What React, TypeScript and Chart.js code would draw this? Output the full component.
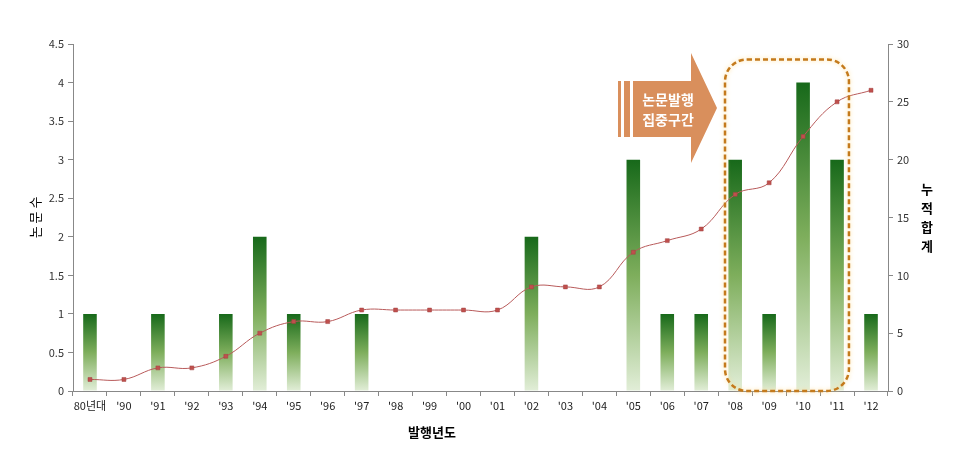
import React, { useEffect, useRef } from "react";
import { Chart, registerables } from "chart.js";

Chart.register(...registerables);

const categories = ["80년대", "'90", "'91", "'92", "'93", "'94", "'95", "'96", "'97", "'98", "'99", "'00", "'01", "'02", "'03", "'04", "'05", "'06", "'07", "'08", "'09", "'10", "'11", "'12"];
const papers = [1, 0, 1, 0, 1, 2, 1, 0, 1, 0, 0, 0, 0, 2, 0, 0, 3, 1, 1, 3, 1, 4, 3, 1];
const cumulative = [1, 1, 2, 2, 3, 5, 6, 6, 7, 7, 7, 7, 7, 9, 9, 9, 12, 13, 14, 17, 18, 22, 25, 26];
const leftTitle = "논 문 수";
const rightTitle = ["누", "적", "합", "계"];
const xTitle = "발행년도";
const arrowText = ["논문발행", "집중구간"];
const focusStart = 19; // '08
const focusEnd = 22; // '11

const FONT = "'Noto Sans CJK KR', 'Noto Sans', sans-serif";

const overlay = {
  id: "overlay",
  afterDraw(chart: any) {
    const ctx = chart.ctx;
    const { left, right, top, bottom } = chart.chartArea;
    const xs = chart.scales.x;
    const ys = chart.scales.y;
    const cw = (right - left) / categories.length;

    ctx.save();
    ctx.fillStyle = "#000";
    ctx.textAlign = "center";
    ctx.textBaseline = "middle";
    ctx.font = `bold 13px ${FONT}`;
    ctx.fillText(xTitle, 432, 432);

    ctx.save();
    ctx.font = `13px ${FONT}`;
    ctx.translate(35, (top + bottom) / 2);
    ctx.rotate(-Math.PI / 2);
    ctx.fillText(leftTitle, 0, 0);
    ctx.restore();

    const midY = (top + bottom) / 2;
    ctx.font = `bold 13px ${FONT}`;
    rightTitle.forEach((ch, i) => {
      ctx.fillText(ch, 927, midY - 28 + i * 19);
    });

    // Dashed focus box
    const bx0 = xs.getPixelForValue(focusStart) - cw * 0.3;
    const bx1 = xs.getPixelForValue(focusEnd) + cw * 0.35;
    const by0 = ys.getPixelForValue(4.3);
    const by1 = bottom;
    const r = 22;
    ctx.beginPath();
    ctx.moveTo(bx0 + r, by0);
    ctx.lineTo(bx1 - r, by0);
    ctx.arcTo(bx1, by0, bx1, by0 + r, r);
    ctx.lineTo(bx1, by1 - r);
    ctx.arcTo(bx1, by1, bx1 - r, by1, r);
    ctx.lineTo(bx0 + r, by1);
    ctx.arcTo(bx0, by1, bx0, by1 - r, r);
    ctx.lineTo(bx0, by0 + r);
    ctx.arcTo(bx0, by0, bx0 + r, by0, r);
    ctx.closePath();
    ctx.save();
    ctx.shadowColor = "rgba(255, 220, 140, 0.9)";
    ctx.shadowBlur = 4;
    ctx.strokeStyle = "#c47a1c";
    ctx.lineWidth = 2.5;
    ctx.setLineDash([5, 3]);
    ctx.stroke();
    ctx.restore();

    // Arrow
    const tipX = bx0 - 8;
    const tipY = 108;
    const headBase = tipX - 26;
    const bodyL = 633;
    ctx.fillStyle = "#d98f5c";
    ctx.beginPath();
    ctx.moveTo(bodyL, 81);
    ctx.lineTo(headBase, 81);
    ctx.lineTo(headBase, 53);
    ctx.lineTo(tipX, tipY);
    ctx.lineTo(headBase, 163);
    ctx.lineTo(headBase, 137);
    ctx.lineTo(bodyL, 137);
    ctx.closePath();
    ctx.fill();
    ctx.fillRect(618, 81, 3, 56);
    ctx.fillRect(624, 81, 6, 56);

    ctx.fillStyle = "#fff";
    ctx.font = `bold 14px ${FONT}`;
    ctx.fillText(arrowText[0], 668, 100);
    ctx.fillText(arrowText[1], 668, 120);
    ctx.restore();
  },
};

const fmt = (v: any) => String(Number(v));

export default function App() {
  const ref = useRef<HTMLCanvasElement>(null);
  useEffect(() => {
    document.body.style.margin = "0";
    const canvas = ref.current!;
    const chart = new Chart(canvas, {
      type: "bar",
      data: {
        labels: categories,
        datasets: [
          {
            type: "line",
            label: "누적합계",
            data: cumulative,
            yAxisID: "y1",
            borderColor: "#b85a5a",
            borderWidth: 1,
            backgroundColor: "#c0504d",
            pointStyle: "rect",
            pointRadius: 2.8,
            pointBorderColor: "#a04040",
            pointBorderWidth: 0.5,
            tension: 0.4,
            order: 0,
          } as any,
          {
            type: "bar",
            label: "논문수",
            data: papers,
            yAxisID: "y",
            barPercentage: 0.4,
            categoryPercentage: 1,
            order: 1,
            backgroundColor: (c: any) => {
              const ch = c.chart;
              if (!ch.chartArea) return "#4a8a30";
              const v = c.raw || 0;
              const ys = ch.scales.y;
              const t = ys.getPixelForValue(v);
              const b = ys.getPixelForValue(0);
              if (b - t < 1) return "rgba(0,0,0,0)";
              const g = ch.ctx.createLinearGradient(0, t, 0, b);
              g.addColorStop(0, "#17691a");
              g.addColorStop(0.5, "#7eae5c");
              g.addColorStop(1, "#e2eed8");
              return g;
            },
          },
        ],
      },
      options: {
        animation: false,
        responsive: false,
        maintainAspectRatio: false,
        layout: { padding: { left: 0, right: 0, top: 44, bottom: 0 } },
        plugins: { legend: { display: false }, tooltip: { enabled: false } },
        scales: {
          x: {
            offset: true,
            grid: { display: true, drawOnChartArea: false, drawTicks: true, tickLength: 5, color: "#888", offset: true },
            border: { color: "#888" },
            ticks: { color: "#222", font: { family: FONT, size: 11 }, padding: 3, maxRotation: 0, autoSkip: false },
            afterFit: (s: any) => { s.height = 71; },
          },
          y: {
            position: "left",
            min: 0,
            max: 4.5,
            ticks: { stepSize: 0.5, color: "#333", font: { family: FONT, size: 11 }, padding: 4, callback: fmt },
            grid: { display: true, drawOnChartArea: false, drawTicks: true, tickLength: 5, color: "#888" },
            border: { color: "#888" },
            afterFit: (s: any) => { s.width = 73; },
          },
          y1: {
            position: "right",
            min: 0,
            max: 30,
            ticks: { stepSize: 5, color: "#333", font: { family: FONT, size: 11 }, padding: 4, callback: fmt },
            grid: { display: true, drawOnChartArea: false, drawTicks: true, tickLength: 5, color: "#888" },
            border: { color: "#888" },
            afterFit: (s: any) => { s.width = 77; },
          },
        },
      },
      plugins: [overlay],
    });
    return () => chart.destroy();
  }, []);
  return (
    <div style={{ position: "absolute", left: 0, top: 0, width: 965, height: 462, background: "#fff" }}>
      <canvas ref={ref} width={965} height={462} style={{ width: 965, height: 462, display: "block" }} />
    </div>
  );
}
